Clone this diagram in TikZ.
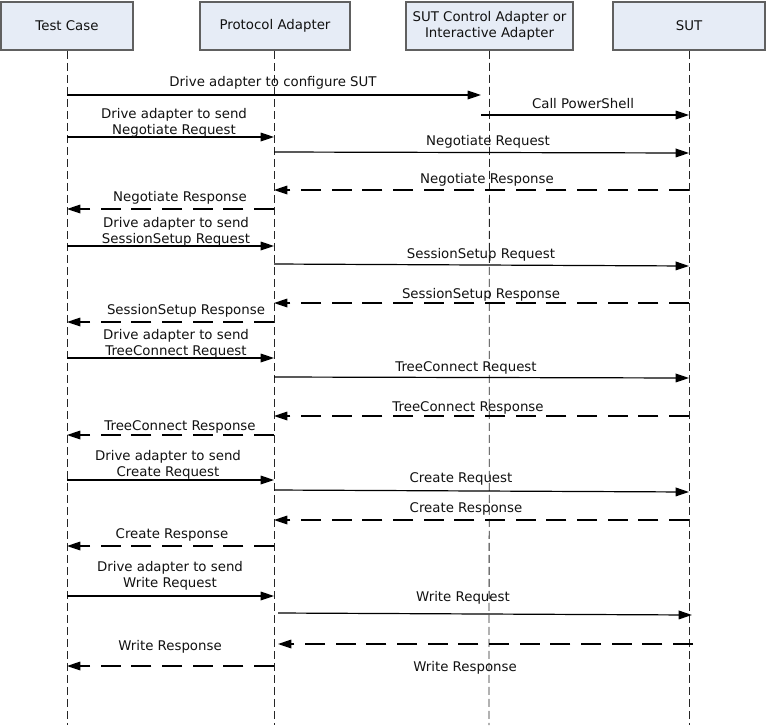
\documentclass[tikz,border=0pt]{standalone}
\usepackage{fontspec}
\setmainfont{DejaVu Sans}
\usetikzlibrary{arrows.meta,calc}
\definecolor{boxfill}{HTML}{E6ECF6}
\definecolor{boxline}{HTML}{606060}
\definecolor{txt}{HTML}{111111}
\begin{document}
\begin{tikzpicture}[x=0.75pt,y=-0.75pt,
  font=\fontsize{10}{12}\selectfont,
  actor/.style={draw=boxline,fill=boxfill,line width=1.3pt,minimum height=36pt,align=center,text=txt,inner sep=1pt},
  life/.style={draw=black!85,line width=0.6pt,dash pattern=on 6pt off 3pt},
  msg/.style={draw=black,line width=0.9pt,-{Triangle[length=10pt,width=6.5pt]}},
  resp/.style={msg,dash pattern=on 15pt off 8pt},
  lbl/.style={text=txt,align=center,inner sep=0pt,fill=none}]
\useasboundingbox (0,0) rectangle (766,725);
% actors
\node[actor,minimum width=99pt] (tc) at (67,26) {Test Case};
\node[actor,minimum width=112.5pt] (pa) at (275,26) {Protocol Adapter};
\node[actor,minimum width=125pt] (sc) at (489.5,26) {SUT Control Adapter or\\Interactive Adapter};
\node[actor,minimum width=114pt] (sut) at (689,26) {SUT};
% lifeline ends
\coordinate (tcE) at (67,725);
\coordinate (paE) at (274,725);
\coordinate (scE) at (489,725);
\coordinate (sutE) at (689,725);
\draw[life] (tc.south) -- (tcE);
\draw[life] ([xshift=-0.75pt]pa.south) -- (paE);
\draw[life] (sc.south) -- (scE);
\draw[life] (sut.south) -- (sutE);
% lifeline x references
\coordinate (T) at (67,0);
\coordinate (P) at (274,0);
\coordinate (C) at (489,0);
\coordinate (S) at (689,0);
% messages
\draw[msg] (T |- 0,95) -- ($(C |- 0,95)+(-8,0)$);
\node[lbl] (l1) at (273,83) {Drive adapter to configure SUT};
\draw[msg] ($(C |- 0,115)+(-8,0)$) -- (S |- 0,115);
\node[lbl] (l2) at (583,104) {Call PowerShell};
\draw[msg] (T |- 0,137) -- (P |- 0,137);
\node[lbl] (l3) at (174,123) {Drive adapter to send\\Negotiate Request};
\draw[msg] (P |- 0,152) -- (S |- 0,153);
\node[lbl] (l4) at (488,142) {Negotiate Request};
\draw[resp] (S |- 0,190) -- (P |- 0,190);
\node[lbl] (l5) at (487,180) {Negotiate Response};
\draw[resp] (P |- 0,209) -- (T |- 0,209);
\node[lbl] (l6) at (180,198) {Negotiate Response};
\draw[msg] (T |- 0,246) -- (P |- 0,246);
\node[lbl] (l7) at (176,232) {Drive adapter to send\\SessionSetup Request};
\draw[msg] (P |- 0,264) -- (S |- 0,266);
\node[lbl] (l8) at (481,255) {SessionSetup Request};
\draw[resp] (S |- 0,303) -- (P |- 0,303);
\node[lbl] (l9) at (481,295) {SessionSetup Response};
\draw[resp] (P |- 0,322) -- (T |- 0,322);
\node[lbl] (l10) at (186,311) {SessionSetup Response};
\draw[msg] (T |- 0,358) -- (P |- 0,358);
\node[lbl] (l11) at (176,344) {Drive adapter to send\\TreeConnect Request};
\draw[msg] (P |- 0,377) -- (S |- 0,378);
\node[lbl] (l12) at (466,368) {TreeConnect Request};
\draw[resp] (S |- 0,416) -- (P |- 0,416);
\node[lbl] (l13) at (468,408) {TreeConnect Response};
\draw[resp] (P |- 0,435) -- (T |- 0,435);
\node[lbl] (l14) at (180,427) {TreeConnect Response};
\draw[msg] (T |- 0,480) -- (P |- 0,480);
\node[lbl] (l15) at (168,465) {Drive adapter to send\\Create Request};
\draw[msg] (P |- 0,490) -- (S |- 0,492);
\node[lbl] (l16) at (461,479) {Create Request};
\draw[resp] (S |- 0,520) -- (P |- 0,520);
\node[lbl] (l17) at (466,509) {Create Response};
\draw[resp] (P |- 0,546) -- (T |- 0,546);
\node[lbl] (l18) at (172,535) {Create Response};
\draw[msg] (T |- 0,596) -- (P |- 0,596);
\node[lbl] (l19) at (170,576) {Drive adapter to send\\Write Request};
\draw[msg] ($(P |- 0,613)+(4,0)$) -- ($(S |- 0,615)+(3,0)$);
\node[lbl] (l20) at (463,598) {Write Request};
\draw[resp] ($(S |- 0,644)+(4,0)$) -- ($(P |- 0,644)+(4,0)$);
\node[lbl] (l21) at (465,668) {Write Response};
\draw[resp] (P |- 0,666) -- (T |- 0,666);
\node[lbl] (l22) at (170,647) {Write Response};
\end{tikzpicture}
\end{document}
